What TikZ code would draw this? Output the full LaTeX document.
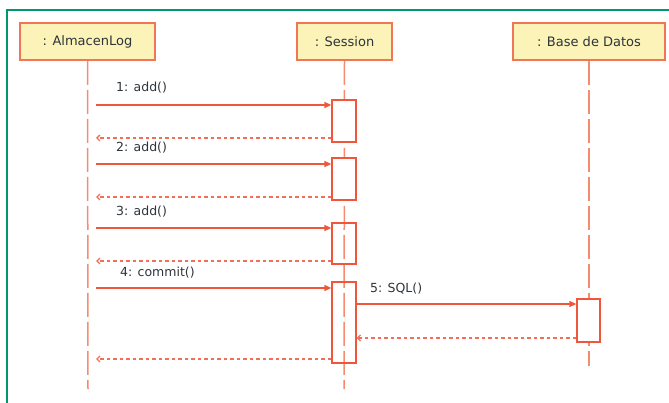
\documentclass[tikz,border=0pt]{standalone}
\usepackage{fontspec}
\setmainfont{DejaVu Sans}
\usepackage{xcolor}
\usetikzlibrary{arrows.meta, positioning}

\definecolor{msgred}{RGB}{240,86,58}
\definecolor{lifered}{RGB}{245,140,112}
\definecolor{boxfill}{RGB}{251,243,184}
\definecolor{boxline}{RGB}{241,118,88}
\definecolor{frameteal}{RGB}{0,150,112}
\definecolor{txtgray}{RGB}{45,52,58}

\begin{document}
\begin{tikzpicture}[x=1pt, y=-1pt,
    objbox/.style={draw=boxline, line width=1.6pt, fill=boxfill, minimum height=37pt,
        inner sep=0pt, text=txtgray, font=\fontsize{13}{15}\selectfont},
    lifeline/.style={lifered, line width=1.5pt, dash pattern=on 24pt off 5pt},
    actbox/.style={draw=msgred, line width=1.3pt, fill=white, minimum width=24pt, inner sep=0pt},
    msg/.style={msgred, line width=1.3pt, -{Triangle[length=7pt, width=6pt]}},
    ret/.style={msgred!85, line width=1.3pt, dash pattern=on 3.5pt off 3pt,
        -{Straight Barb[length=3pt, width=6pt]}},
    msglabel/.style={anchor=west, inner sep=0pt, text=txtgray, font=\fontsize{12.5}{15}\selectfont}]

    % area of the picture, and the teal frame running off to the right and bottom
    \useasboundingbox (0,0) rectangle (669,403);
    \clip (0,0) rectangle (669,403);
    \draw[frameteal, line width=2.2pt] (7,10) rectangle (690,420);

    % =================================================================
    % 1. OBJECTS AND LIFELINES
    % =================================================================
    \node[objbox, minimum width=135pt] (alm) at (87.5,41.5) {: AlmacenLog};
    \node[objbox, minimum width=95pt] (ses) at (344.5,41.5) {: Session};
    \node[objbox, minimum width=152pt] (bdd) at (589,41.5) {: Base de Datos};

    \coordinate (almEnd) at (88,389);
    \coordinate (sesEnd) at (344,389);
    \coordinate (bddEnd) at (589,366);

    \draw[lifeline] (alm.south) -- (almEnd);
    \draw[lifeline] (ses.south) -- (sesEnd);
    \draw[lifeline] (bdd.south) -- (bddEnd);

    % =================================================================
    % 2. ACTIVATION BARS
    % =================================================================
    \node[actbox, minimum height=42pt] (act1) at (344,121) {};
    \node[actbox, minimum height=42pt] (act2) at (344,179) {};
    \node[actbox, fill=none, minimum height=41pt] (act3) at (344,243.5) {};
    \node[actbox, fill=none, minimum height=81pt] (act4) at (344,322.5) {};
    \node[actbox, minimum width=23pt, minimum height=43pt] (act5) at (588.5,320.5) {};

    % =================================================================
    % 3. MESSAGES AND REPLIES
    % =================================================================
    % start points on the AlmacenLog side
    \coordinate (call1) at (96,105);
    \coordinate (back1) at (96,138);
    \coordinate (call2) at (96,164);
    \coordinate (back2) at (96,197);
    \coordinate (call3) at (96,228);
    \coordinate (back3) at (96,261);
    \coordinate (call4) at (96,288);
    \coordinate (back4) at (96,359);
    % the query to the database
    \coordinate (call5) at (356,304);
    \coordinate (back5) at (356,338);

    \draw[msg] (call1) -- (call1 -| act1.west);
    \draw[ret] (back1 -| act1.west) -- (back1);
    \draw[msg] (call2) -- (call2 -| act2.west);
    \draw[ret] (back2 -| act2.west) -- (back2);
    \draw[msg] (call3) -- (call3 -| act3.west);
    \draw[ret] (back3 -| act3.west) -- (back3);
    \draw[msg] (call4) -- (call4 -| act4.west);
    \draw[ret] (back4 -| act4.west) -- (back4);
    \draw[msg] (call5 -| act4.east) -- (call5 -| act5.west);
    \draw[ret] (back5 -| act5.west) -- (back5 -| act4.east);

    % message names
    \node[msglabel] (lab1) at (116,88) {1: add()};
    \node[msglabel] (lab2) at (116,148) {2: add()};
    \node[msglabel] (lab3) at (116,212) {3: add()};
    \node[msglabel] (lab4) at (120,273) {4: commit()};
    \node[msglabel] (lab5) at (370,289) {5: SQL()};

\end{tikzpicture}
\end{document}
